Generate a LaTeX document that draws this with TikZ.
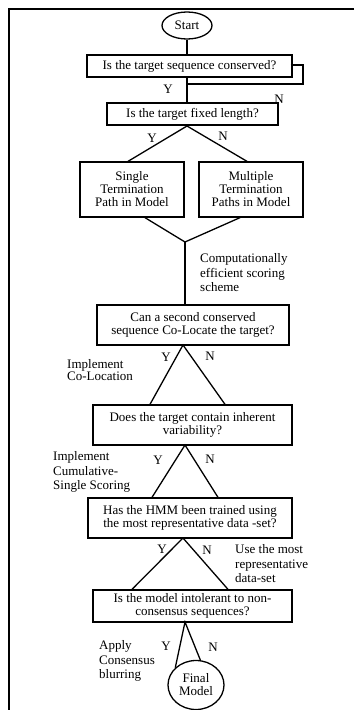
\documentclass[tikz,border=0pt]{standalone}
\usepackage{fontspec}
\setmainfont{Liberation Serif}
\usetikzlibrary{shapes.geometric}
\begin{document}
\begin{tikzpicture}[x=1pt,y=-1pt,
  every node/.style={font=\fontsize{13}{13}\selectfont},
  box/.style={draw,line width=1.3pt,rectangle,inner sep=1pt,align=center},
  oval/.style={draw,line width=1.3pt,ellipse,inner sep=0pt,align=center},
  lbl/.style={inner sep=0pt,align=left,font=\fontsize{13}{14.5}\selectfont},
  yn/.style={inner sep=0pt},
  conn/.style={line width=1.3pt}]
\useasboundingbox (0,0) rectangle (354,710);
\draw[line width=1.6pt] (354,9) -- (9,9) -- (9,710);
% nodes
\node[oval,minimum width=50,minimum height=27] (start) at (187,25.5) {Start};
\node[box,minimum width=205,minimum height=22] (b1) at (189.5,66) {Is the target sequence conserved?};
\node[box,minimum width=171,minimum height=22] (b2) at (192.5,114) {Is the target fixed length?};
\node[box,minimum width=104,minimum height=55] (single) at (132,189.5) {Single\\Termination\\Path in Model};
\node[box,minimum width=104,minimum height=55] (multi) at (251,189.5) {Multiple\\Termination\\Paths in Model};
\coordinate (merge) at (185,242);
\node[box,minimum width=192,minimum height=40] (b3) at (193,325) {Can a second conserved\\sequence Co-Locate the target?};
\node[box,minimum width=199,minimum height=40] (b4) at (192.5,425) {Does the target contain inherent\\variability?};
\node[box,minimum width=204,minimum height=40] (b5) at (190,518) {Has the HMM been trained using\\the most representative data -set?};
\node[box,minimum width=199,minimum height=32] (b6) at (192.5,606) {Is the model intolerant to non-\\consensus sequences?};
\node[oval,minimum width=56,minimum height=49] (final) at (196,685) {Final\\Model};
% connectors
\draw[conn] (start.south) -- (start.south |- b1.north);
\draw[conn] (b1.south -| start.south) -- (b2.north -| start.south);
\coordinate (loopA) at (303,65);
\coordinate (loopB) at (303,84);
\draw[conn] ([xshift=-2pt]b1.east |- loopA) -- (loopA) -- (loopB) -- (loopB -| start.south);
\coordinate (b2s) at (187,126);
\draw[conn] (single.north -| 128,0) -- (b2s) -- (multi.north -| 247,0);
\draw[conn] (single.south -| 145,0) -- (merge) -- (multi.south -| 240,0);
\draw[conn] (merge) -- (merge |- b3.north);
\coordinate (b3s) at (183,345);
\draw[conn] (b4.north -| 150,0) -- (b3s) -- (b4.north -| 225,0);
\coordinate (b4s) at (185,445);
\draw[conn] (b5.north -| 152,0) -- (b4s) -- (b5.north -| 218,0);
\coordinate (b5s) at (183,538);
\draw[conn] (b6.north -| 132,0) -- (b5s) -- (b6.north -| 228,0);
\coordinate (b6s) at (185,622);
\draw[conn] (final.140) -- (b6s) -- (final.80);
% labels
\node[yn] (y1) at (168,89) {Y};
\node[yn] (n1) at (279,99) {N};
\node[yn] (y2) at (152,138) {Y};
\node[yn] (n2) at (223,136) {N};
\node[lbl,anchor=west] (l1) at (200,273) {Computationally\\efficient scoring\\scheme};
\node[yn] (y3) at (166,357) {Y};
\node[yn] (n3) at (210,356) {N};
\node[lbl,anchor=west,font=\fontsize{13}{12}\selectfont] (l2) at (67,370.5) {Implement\\Co-Location};
\node[yn] (y4) at (158,460) {Y};
\node[yn] (n4) at (210,459) {N};
\node[lbl,anchor=west] (l3) at (53,472) {Implement\\Cumulative-\\Single Scoring};
\node[yn] (y5) at (162,549) {Y};
\node[yn] (n5) at (207,550) {N};
\node[lbl,anchor=west] (l4) at (235,564) {Use the most\\representative\\data-set};
\node[yn] (y6) at (166,646) {Y};
\node[yn] (n6) at (213,647) {N};
\node[lbl,anchor=west] (l5) at (99,661) {Apply\\Consensus\\blurring};
\end{tikzpicture}
\end{document}
